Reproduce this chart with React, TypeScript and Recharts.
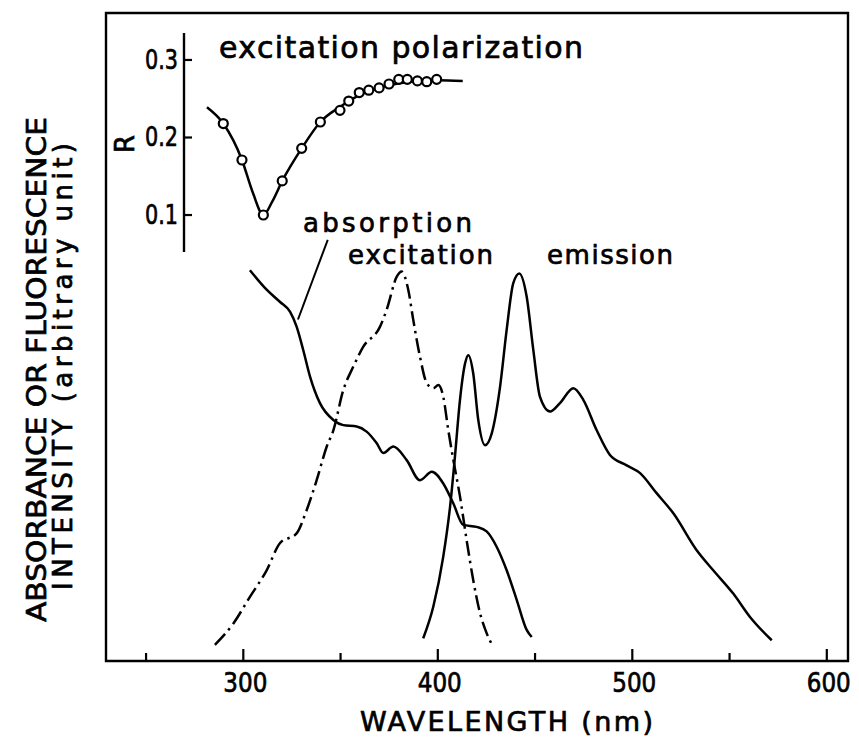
import React from "react"
import {
  ComposedChart,
  Line,
  LineChart,
  ReferenceArea,
  ReferenceLine,
  XAxis,
  YAxis,
} from "recharts"

// wavelength (nm) / intensity (arbitrary, 0-100)
const absorption = [
  { wl: 303.4, v: 60.3 }, { wl: 312.0, v: 57.3 }, { wl: 318.9, v: 55.4 },
  { wl: 324.0, v: 53.9 }, { wl: 327.4, v: 51.6 }, { wl: 330.8, v: 48.0 },
  { wl: 334.3, v: 43.9 }, { wl: 339.4, v: 39.8 }, { wl: 346.3, v: 37.2 },
  { wl: 351.4, v: 36.4 }, { wl: 358.3, v: 36.2 }, { wl: 363.4, v: 35.4 },
  { wl: 368.6, v: 33.6 }, { wl: 372.0, v: 32.1 }, { wl: 377.1, v: 33.1 },
  { wl: 384.0, v: 31.0 }, { wl: 390.8, v: 27.9 }, { wl: 396.9, v: 29.2 },
  { wl: 402.8, v: 27.4 }, { wl: 408.0, v: 24.3 }, { wl: 413.1, v: 21.0 },
  { wl: 420.0, v: 20.7 }, { wl: 425.1, v: 20.0 }, { wl: 430.3, v: 17.6 },
  { wl: 435.4, v: 14.0 }, { wl: 440.6, v: 9.4 }, { wl: 445.7, v: 4.8 },
  { wl: 448.3, v: 3.7 },
]

const excitation = [
  { wl: 285.4, v: 2.5 }, { wl: 294.9, v: 5.8 }, { wl: 303.4, v: 9.9 },
  { wl: 312.0, v: 14.0 }, { wl: 318.9, v: 18.2 }, { wl: 327.4, v: 19.7 },
  { wl: 332.6, v: 23.3 }, { wl: 337.7, v: 27.9 }, { wl: 342.9, v: 33.1 },
  { wl: 346.3, v: 35.6 }, { wl: 351.4, v: 41.8 }, { wl: 356.5, v: 45.4 },
  { wl: 361.7, v: 48.5 }, { wl: 370.3, v: 51.6 }, { wl: 373.7, v: 54.2 },
  { wl: 378.9, v: 59.3 }, { wl: 381.4, v: 60.1 }, { wl: 384.8, v: 57.3 },
  { wl: 387.4, v: 52.6 }, { wl: 390.8, v: 47.0 }, { wl: 394.3, v: 42.9 },
  { wl: 397.7, v: 42.1 }, { wl: 400.3, v: 42.6 }, { wl: 402.8, v: 40.8 },
  { wl: 405.4, v: 35.6 }, { wl: 408.0, v: 31.0 }, { wl: 411.4, v: 25.4 },
  { wl: 414.8, v: 18.7 }, { wl: 418.2, v: 12.5 }, { wl: 421.7, v: 7.4 },
  { wl: 425.1, v: 4.3 }, { wl: 428.5, v: 2.2 },
]

const emission = [
  { wl: 392.5, v: 3.5 }, { wl: 397.7, v: 8.4 }, { wl: 402.8, v: 16.1 },
  { wl: 406.3, v: 23.8 }, { wl: 408.8, v: 31.5 }, { wl: 411.4, v: 40.3 },
  { wl: 414.0, v: 45.9 }, { wl: 415.7, v: 47.2 }, { wl: 418.2, v: 44.4 },
  { wl: 420.8, v: 37.2 }, { wl: 424.3, v: 33.3 }, { wl: 427.7, v: 35.1 },
  { wl: 432.0, v: 42.3 }, { wl: 435.4, v: 51.1 }, { wl: 438.8, v: 58.3 },
  { wl: 441.9, v: 59.8 }, { wl: 445.7, v: 56.2 }, { wl: 449.1, v: 48.0 },
  { wl: 452.5, v: 40.8 }, { wl: 457.7, v: 38.5 }, { wl: 462.8, v: 39.8 },
  { wl: 469.7, v: 42.1 }, { wl: 474.8, v: 40.3 }, { wl: 481.7, v: 35.6 },
  { wl: 488.5, v: 31.8 }, { wl: 497.1, v: 30.2 }, { wl: 504.0, v: 29.0 },
  { wl: 512.5, v: 25.9 }, { wl: 521.1, v: 22.8 }, { wl: 533.1, v: 17.1 },
  { wl: 541.6, v: 14.0 }, { wl: 551.9, v: 10.4 }, { wl: 560.5, v: 6.8 },
  { wl: 571.7, v: 3.2 },
]

// inset: excitation polarization R
const polCurve = [
  { wl: 281.3, r: 0.239 }, { wl: 289.7, r: 0.218 }, { wl: 299.3, r: 0.171 },
  { wl: 305.0, r: 0.128 }, { wl: 310.3, r: 0.1 }, { wl: 315.0, r: 0.118 },
  { wl: 320.0, r: 0.144 }, { wl: 330.0, r: 0.186 }, { wl: 339.6, r: 0.22 },
  { wl: 350.0, r: 0.24 }, { wl: 360.0, r: 0.255 }, { wl: 370.0, r: 0.264 },
  { wl: 380.0, r: 0.27 }, { wl: 390.0, r: 0.273 }, { wl: 400.0, r: 0.274 },
  { wl: 412.8, r: 0.273 },
]

const polPoints = [
  { wl: 289.7, r: 0.218 }, { wl: 299.3, r: 0.171 }, { wl: 310.3, r: 0.1 },
  { wl: 320.0, r: 0.144 }, { wl: 330.0, r: 0.186 }, { wl: 339.6, r: 0.22 },
  { wl: 349.7, r: 0.235 }, { wl: 354.2, r: 0.247 }, { wl: 359.6, r: 0.258 },
  { wl: 364.5, r: 0.261 }, { wl: 369.8, r: 0.264 }, { wl: 374.9, r: 0.269 },
  { wl: 379.9, r: 0.275 }, { wl: 384.3, r: 0.275 }, { wl: 389.5, r: 0.273 },
  { wl: 394.3, r: 0.272 }, { wl: 399.4, r: 0.275 },
]

const xTicks = [250, 300, 350, 400, 450, 500, 550, 600]
const rTicks = [0.1, 0.2, 0.3]

const W = 859
const H = 738
const FONT = "'DejaVu Sans', sans-serif"
const X_DOMAIN: [number, number] = [229.4, 610.9]
const INK = { fill: "#000", stroke: "#000", strokeWidth: 0.7, fontFamily: FONT }

const XTick = (props: any) => {
  const { x, y, payload } = props
  const v = payload.value as number
  const major = v % 100 === 0
  return (
    <g>
      <line x1={x} x2={x} y1={y} y2={y - (major ? 12 : 8)} stroke="#000" strokeWidth={2.2} />
      {major && (
        <text {...INK} x={x + 2} y={y + 31} textAnchor="middle" fontSize={26}
          textLength={44} lengthAdjust="spacingAndGlyphs">
          {v}
        </text>
      )}
    </g>
  )
}

const RTick = (props: any) => {
  const { x, y, payload } = props
  return (
    <g>
      <line x1={x} x2={x + 8} y1={y} y2={y} stroke="#000" strokeWidth={2.2} />
      <text {...INK} x={x - 6} y={y + 9} textAnchor="end" fontSize={26}
        textLength={33} lengthAdjust="spacingAndGlyphs">
        {payload.value.toFixed(1)}
      </text>
    </g>
  )
}

function MainChart() {
  return (
    <LineChart width={W} height={H} margin={{ top: 13, right: 11, bottom: 0, left: 106 }}>
      <XAxis
        type="number"
        dataKey="wl"
        domain={X_DOMAIN}
        ticks={xTicks}
        height={77}
        axisLine={false}
        tickLine={false}
        tickSize={0}
        tickMargin={0}
        tick={<XTick />}
        allowDataOverflow
      />
      <YAxis type="number" dataKey="v" domain={[0, 100]} hide allowDataOverflow />
      <ReferenceArea
        x1={X_DOMAIN[0]}
        x2={X_DOMAIN[1]}
        y1={0}
        y2={100}
        fill="none"
        fillOpacity={0}
        stroke="#000"
        strokeWidth={2.4}
        ifOverflow="visible"
      />
      <ReferenceLine
        segment={[{ x: 343.4, y: 65.0 }, { x: 328.1, y: 52.7 }]}
        stroke="#000"
        strokeWidth={2}
        ifOverflow="visible"
      />
      <Line data={absorption} dataKey="v" type="monotone" stroke="#000" strokeWidth={2.5}
        dot={false} isAnimationActive={false} />
      <Line data={excitation} dataKey="v" type="monotone" stroke="#000" strokeWidth={2.5}
        strokeDasharray="15 5 2.5 5" dot={false} isAnimationActive={false} />
      <Line data={emission} dataKey="v" type="monotone" stroke="#000" strokeWidth={2.5}
        dot={false} isAnimationActive={false} />
    </LineChart>
  )
}

function InsetChart() {
  // plot area: x 184..574, y 33..252
  return (
    <ComposedChart width={W} height={H} margin={{ top: 33, right: 285, bottom: 486, left: 124 }}>
      <XAxis type="number" dataKey="wl" domain={[269.5, 470]} hide allowDataOverflow />
      <YAxis
        type="number"
        dataKey="r"
        domain={[0.0523, 0.3348]}
        ticks={rTicks}
        width={60}
        axisLine={{ stroke: "#000", strokeWidth: 2.4 }}
        tickLine={false}
        tickSize={0}
        tickMargin={0}
        tick={<RTick />}
        allowDataOverflow
      />
      <Line data={polCurve} dataKey="r" type="monotone" stroke="#000" strokeWidth={2.5}
        dot={false} isAnimationActive={false} />
      <Line data={polPoints} dataKey="r" stroke="none" isAnimationActive={false}
        dot={{ r: 4.5, fill: "#fff", stroke: "#000", strokeWidth: 2.2 }} />
    </ComposedChart>
  )
}

function Labels() {
  return (
    <svg width={W} height={H} style={{ position: "absolute", left: 0, top: 0, pointerEvents: "none" }}>
      <text {...INK} x={219} y={58} fontSize={30} textLength={364} lengthAdjust="spacing">
        excitation polarization
      </text>
      <text {...INK} x={303} y={232} fontSize={26} textLength={169} lengthAdjust="spacing">
        absorption
      </text>
      <text {...INK} x={348} y={264} fontSize={26} textLength={145} lengthAdjust="spacing">
        excitation
      </text>
      <text {...INK} x={547} y={264} fontSize={26} textLength={126} lengthAdjust="spacing">
        emission
      </text>
      <text {...INK} x={134} y={144} fontSize={26} textAnchor="middle" transform="rotate(-90 134 144)">
        R
      </text>
      <text {...INK} x={360} y={731} fontSize={27} textLength={293} lengthAdjust="spacing">
        WAVELENGTH (nm)
      </text>
      <text {...INK} x={46} y={369.5} fontSize={26} textAnchor="middle" transform="rotate(-90 46 369.5)"
        textLength={505} lengthAdjust="spacingAndGlyphs">
        ABSORBANCE OR FLUORESCENCE
      </text>
      <text {...INK} x={72} y={366.5} fontSize={26} textAnchor="middle" transform="rotate(-90 72 366.5)"
        textLength={447} lengthAdjust="spacing">
        INTENSITY (arbitrary unit)
      </text>
    </svg>
  )
}

export default function App() {
  return (
    <div style={{ position: "absolute", left: 0, top: 0, width: W, height: H, background: "#fff" }}>
      <div style={{ position: "absolute", left: 0, top: 0 }}>
        <MainChart />
      </div>
      <div style={{ position: "absolute", left: 0, top: 0 }}>
        <InsetChart />
      </div>
      <Labels />
    </div>
  )
}
